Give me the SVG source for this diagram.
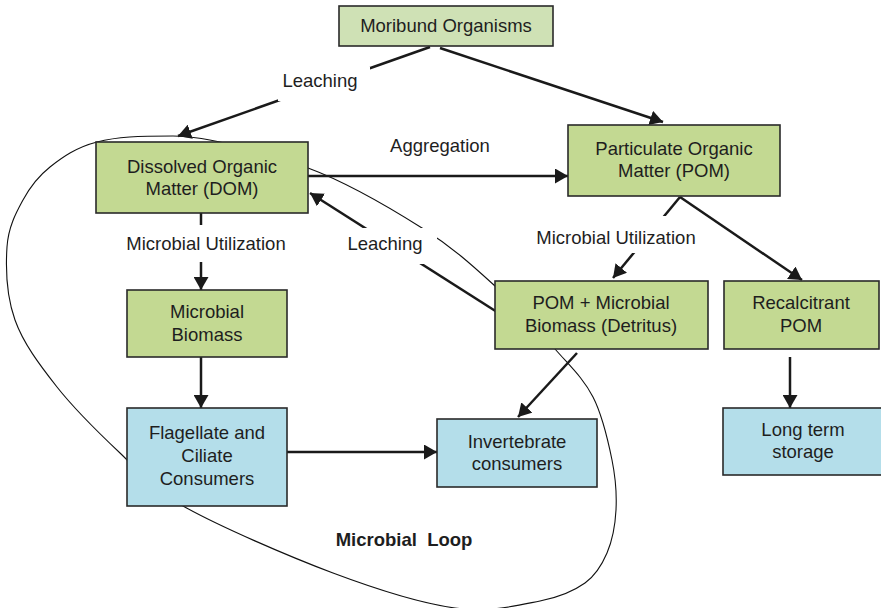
<svg xmlns="http://www.w3.org/2000/svg" width="881" height="608" viewBox="0 0 881 608">
<defs>
<style>
.box{stroke:#2a2a2a;stroke-width:1.6}
.g{fill:#c3d992}
.lg{fill:#cfe1b5}
.b{fill:#b4deea}
text{font-family:"Liberation Sans",Arial,sans-serif;font-size:18.5px;fill:#1e1e1e;text-anchor:middle}
.bold{font-weight:bold}
.conn{stroke:#1a1a1a;stroke-width:2.5;fill:none;marker-end:url(#ah)}
.bg{fill:#fff}
</style>
<marker id="ah" viewBox="0 0 13 15" refX="13" refY="7.5" markerWidth="13" markerHeight="15" markerUnits="userSpaceOnUse" orient="auto"><path d="M0,0 L13,7.5 L0,15 z" fill="#1a1a1a"/></marker>
</defs>
<rect width="881" height="608" fill="#fff"/>
<path id="loop" fill="none" stroke="#111" stroke-width="1.1" d="M173,136 C208,136 266.5,152.7 308,168 C349.5,183.3 390.8,208.3 422,228 C453.2,247.7 472.8,265.8 495,286 C517.2,306.2 538.7,330.5 555,349 C571.3,367.5 583.5,378.5 593,397 C602.5,415.5 608.2,441.2 612,460 C615.8,478.8 616.8,494.5 616,510 C615.2,525.5 612.2,540.8 607,553 C601.8,565.2 596.2,575 585,583 C573.8,591 561.7,596.8 540,601 C518.3,605.2 489.5,612.7 455,608 C420.5,603.3 378.3,590 333,573 C287.7,556 218.5,526 183,506 C147.5,486 141,472.8 120,453 C99,433.2 74.5,409.2 57,387 C39.5,364.8 23.3,343.3 15,320 C6.7,296.7 5.7,267 7,247 C8.3,227 15.8,213.3 23,200 C30.2,186.7 37.7,176.7 50,167 C62.3,157.3 76.5,147.2 97,142 C117.5,136.8 138,136 173,136 Z"/>
<g id="connectors">
<path class="conn" d="M430,47 L178,136"/>
<path class="conn" d="M440,48 L663,122"/>
<path class="conn" d="M308,176 L568,176"/>
<path class="conn" d="M201,213 L201,290"/>
<path class="conn" d="M497,312 L310,193"/>
<path class="conn" d="M680,197 L613,278"/>
<path class="conn" d="M680,197 L802,280"/>
<path class="conn" d="M577,353 L518,417"/>
<path class="conn" d="M201,357 L201,408"/>
<path class="conn" d="M287,452 L437,452"/>
<path class="conn" d="M790,357 L790,408"/>
</g>
<g id="labels">
<rect class="bg" x="278" y="67" width="92" height="34"/>
<text x="320" y="87">Leaching</text>
<text x="440" y="152">Aggregation</text>
<rect class="bg" x="122" y="225" width="170" height="37"/>
<text x="206" y="250">Microbial Utilization</text>
<rect class="bg" x="345" y="228" width="92" height="36"/>
<text x="385" y="250">Leaching</text>
<rect class="bg" x="532" y="216" width="170" height="37"/>
<text x="616" y="244">Microbial Utilization</text>
<text class="bold" x="404" y="546" xml:space="preserve">Microbial  Loop</text>
</g>
<g id="moribund"><rect class="box lg" x="339" y="6" width="214" height="40"/><text x="446" y="32">Moribund Organisms</text></g>
<g id="dom"><rect class="box g" x="96" y="142" width="212" height="71"/><text x="202" y="173">Dissolved Organic</text><text x="202" y="195">Matter (DOM)</text></g>
<g id="pom"><rect class="box g" x="568" y="125" width="212" height="71"/><text x="674" y="155">Particulate Organic</text><text x="674" y="177">Matter (POM)</text></g>
<g id="biomass"><rect class="box g" x="127" y="290" width="160" height="67"/><text x="207" y="318">Microbial</text><text x="207" y="341">Biomass</text></g>
<g id="flagellate"><rect class="box b" x="127" y="408" width="160" height="98"/><text x="207" y="439">Flagellate and</text><text x="207" y="462">Ciliate</text><text x="207" y="485">Consumers</text></g>
<g id="invertebrate"><rect class="box b" x="437" y="419" width="160" height="68"/><text x="517" y="448">Invertebrate</text><text x="517" y="470">consumers</text></g>
<g id="detritus"><rect class="box g" x="495" y="281" width="213" height="68"/><text x="601" y="309">POM + Microbial</text><text x="601" y="332">Biomass (Detritus)</text></g>
<g id="recalcitrant"><rect class="box g" x="724" y="281" width="155" height="68"/><text x="801" y="309">Recalcitrant</text><text x="801" y="332">POM</text></g>
<g id="storage"><rect class="box b" x="723" y="408" width="162" height="67"/><text x="803" y="436">Long term</text><text x="803" y="458">storage</text></g>
</svg>
